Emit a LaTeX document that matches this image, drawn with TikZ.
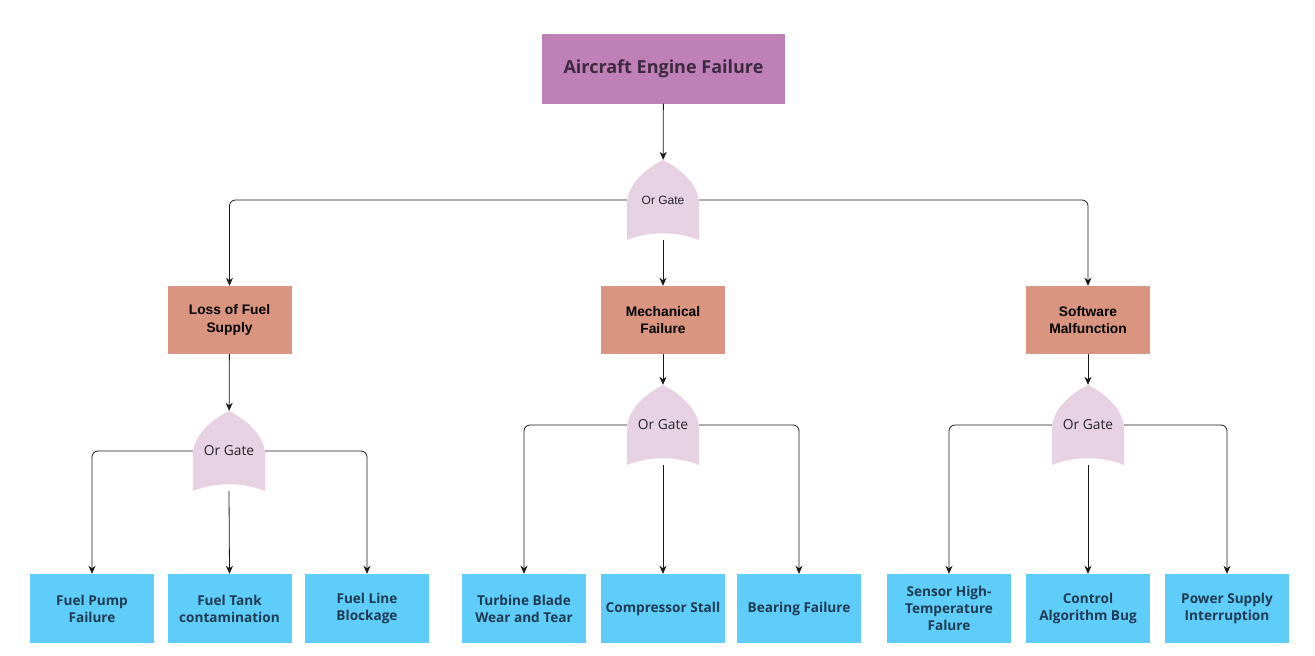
\documentclass[tikz,border=0pt]{standalone}
\usepackage{fontspec}
\setmainfont{Open Sans}
\newfontfamily\arialfont{Liberation Sans}
\usetikzlibrary{arrows.meta}
\definecolor{topcol}{HTML}{BE80B6}
\definecolor{midcol}{HTML}{D9957F}
\definecolor{leafcol}{HTML}{5FCDF9}
\definecolor{gatecol}{HTML}{E6D2E2}
\definecolor{toptext}{HTML}{3E2A40}
\definecolor{leaftext}{HTML}{1F3B52}
\tikzset{
    topevent/.style={rectangle, fill=topcol, text=toptext, minimum width=243pt, minimum height=70pt, font=\fontsize{18}{21}\selectfont\bfseries},
    event/.style={rectangle, fill=midcol, text=black, minimum width=124pt, minimum height=68pt, align=center, font=\arialfont\fontsize{13.8}{17.5}\selectfont\bfseries},
    basic/.style={rectangle, fill=leafcol, text=leaftext, minimum width=124pt, minimum height=69pt, align=center, font=\fontsize{13.6}{17}\selectfont\bfseries},
    orgate/.style={minimum width=72pt, minimum height=80pt, inner sep=0pt, text=black!85,
        font=\fontsize{13.8}{15}\selectfont,
        path picture={
            \fill[gatecol] (path picture bounding box.north)
                .. controls +(-20pt,-10pt) and +(0pt,18pt) .. ([yshift=36pt]path picture bounding box.south west)
                -- (path picture bounding box.south west)
                .. controls +(22pt,9pt) and +(-22pt,9pt) .. (path picture bounding box.south east)
                -- ([yshift=36pt]path picture bounding box.south east)
                .. controls +(0pt,18pt) and +(20pt,-10pt) .. (path picture bounding box.north) -- cycle;
        }},
    conn/.style={->,>={Stealth[length=8pt,width=7pt,inset=2.5pt]}, draw=black!90, line width=0.8pt, rounded corners=6pt},
}

\begin{document}
\begin{tikzpicture}[x=1pt,y=-1pt]
    \useasboundingbox (0,0) rectangle (1315,656);
    \node[topevent] (top) at (663.5,68.5) {Aircraft Engine Failure};
    \node[orgate, font=\arialfont\fontsize{12}{14}\selectfont] (g0) at (663,200) {Or Gate};

    \node[event] (loss) at (229.5,320) {Loss of Fuel\\Supply};
    \node[event] (mech) at (663,320) {Mechanical\\Failure};
    \node[event] (soft) at (1088,320) {Software\\Malfunction};

    \node[orgate] (gl) at (229,451) {Or Gate};
    \node[orgate] (gm) at (663,425) {Or Gate};
    \node[orgate] (gr) at (1088,425) {Or Gate};

    \node[basic] (pump) at (92,608.5) {Fuel Pump\\Failure};
    \node[basic] (tank) at (229.5,608.5) {Fuel Tank\\contamination};
    \node[basic] (line) at (367,608.5) {Fuel Line\\Blockage};
    \node[basic] (blade) at (524,608.5) {Turbine Blade\\Wear and Tear};
    \node[basic] (stall) at (663,608.5) {Compressor Stall};
    \node[basic] (bear) at (799,608.5) {Bearing Failure};
    \node[basic] (sensor) at (949,608.5) {Sensor High-\\Temperature\\Falure};
    \node[basic] (ctrl) at (1088,608.5) {Control\\Algorithm Bug};
    \node[basic] (power) at (1227,608.5) {Power Supply\\Interruption};

    % top level
    \draw[conn] (top) -- (g0);
    \draw[conn] (g0.west) -| (loss.north);
    \draw[conn] (g0.south) -- (mech.north);
    \draw[conn] (g0.east) -| (soft.north);

    % fuel branch
    \draw[conn] (loss) -- (gl);
    \draw[conn] (gl.west) -| (pump.north);
    \draw[conn] (gl.south) -- (tank.north);
    \draw[conn] (gl.east) -| (line.north);

    % mechanical branch
    \draw[conn] (mech) -- (gm);
    \draw[conn] (gm.west) -| (blade.north);
    \draw[conn] (gm.south) -- (stall.north);
    \draw[conn] (gm.east) -| (bear.north);

    % software branch
    \draw[conn] (soft) -- (gr);
    \draw[conn] (gr.west) -| (sensor.north);
    \draw[conn] (gr.south) -- (ctrl.north);
    \draw[conn] (gr.east) -| (power.north);
\end{tikzpicture}
\end{document}
